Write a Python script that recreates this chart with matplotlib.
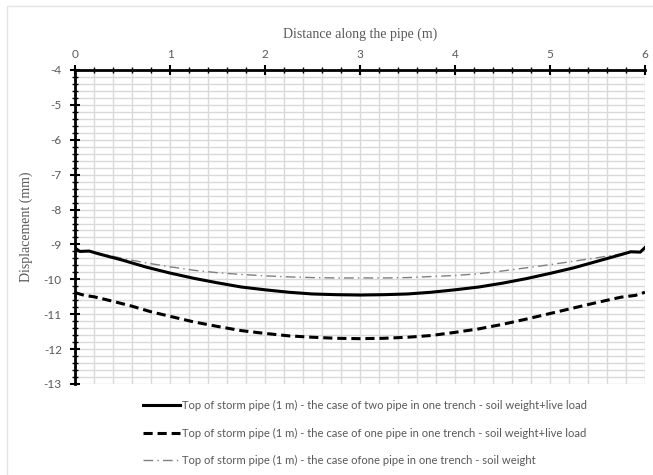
import matplotlib.pyplot as plt
from matplotlib.ticker import MultipleLocator
from matplotlib.patches import Rectangle

plt.rcParams["axes.unicode_minus"] = False

# distance along the pipe (m) and displacement (mm)
x_two = [0, 0.05, 0.15, 0.25, 0.5, 0.75, 1.0, 1.25, 1.5, 1.75, 2.0, 2.25, 2.5, 2.75, 3.0,
         3.25, 3.5, 3.75, 4.0, 4.25, 4.5, 4.75, 5.0, 5.25, 5.5, 5.75, 5.85, 5.95, 6.0]
y_two = [-9.10, -9.20, -9.19, -9.27, -9.45, -9.65, -9.82, -9.97, -10.10, -10.22, -10.30, -10.37,
         -10.42, -10.44, -10.45, -10.44, -10.42, -10.37, -10.30, -10.22, -10.11, -9.98, -9.83,
         -9.67, -9.48, -9.29, -9.21, -9.22, -9.09]

x_one = [0, 0.1, 0.2, 0.4, 0.6, 0.8, 1.0, 1.25, 1.5, 1.75, 2.0, 2.25, 2.5, 2.75, 3.0,
         3.25, 3.5, 3.75, 4.0, 4.25, 4.5, 4.75, 5.0, 5.25, 5.5, 5.75, 5.9, 6.0]
y_one = [-10.38, -10.46, -10.50, -10.63, -10.77, -10.93, -11.06, -11.22, -11.35, -11.47, -11.55,
         -11.62, -11.66, -11.69, -11.70, -11.69, -11.66, -11.61, -11.52, -11.42, -11.29, -11.14,
         -10.98, -10.82, -10.66, -10.51, -10.46, -10.37]

x_soil = x_two
y_soil = [-9.10, -9.20, -9.19, -9.25, -9.40, -9.53, -9.64, -9.74, -9.81, -9.86, -9.90, -9.93,
          -9.95, -9.96, -9.96, -9.96, -9.95, -9.92, -9.89, -9.84, -9.76, -9.67, -9.58, -9.48,
          -9.38, -9.27, -9.21, -9.22, -9.09]

labels = [
    "Top of storm pipe (1 m) - the case of two pipe in one trench - soil weight+live load",
    "Top of storm pipe (1 m) - the case of one pipe in one trench - soil weight+live load",
    "Top of storm pipe (1 m) - the case ofone pipe in one trench - soil weight",
]

grey = "#595959"
fig = plt.figure(figsize=(6.53, 4.75), dpi=100)
# chart area border (only top and left edges fall inside the picture)
fig.patches.append(Rectangle((7 / 653, -0.1), 1.1, 1.1 - 6 / 475, transform=fig.transFigure,
                             fill=False, edgecolor="#e3e3e3", linewidth=1))
ax = fig.add_axes([75 / 653, 91 / 475, 570 / 653, 314 / 475])

ax.plot(x_two, y_two, color="black", lw=2.2, label=labels[0], zorder=4)
ax.plot(x_one, y_one, color="black", lw=2.2, dashes=(3, 1.6), label=labels[1], zorder=4)
ax.plot(x_soil, y_soil, color="#808080", lw=1.0, dashes=(7, 3, 1, 3), label=labels[2], zorder=3)

ax.set_xlim(0, 6)
ax.set_ylim(-13, -4)
ax.xaxis.tick_top()
ax.xaxis.set_label_position("top")
ax.xaxis.set_major_locator(MultipleLocator(1))
ax.xaxis.set_minor_locator(MultipleLocator(0.2))
ax.yaxis.set_major_locator(MultipleLocator(1))
ax.yaxis.set_minor_locator(MultipleLocator(0.2))
ax.grid(True, which="both", color="#d9d9d9", lw=1)
ax.set_axisbelow(True)

for s in ["bottom", "right"]:
    ax.spines[s].set_visible(False)
for s in ["top", "left"]:
    ax.spines[s].set_linewidth(2)
    ax.spines[s].set_color("black")

ax.tick_params(which="major", direction="inout", length=7, width=1.5, color="black",
               labelcolor=grey, labelsize=8.5, pad=4)
ax.tick_params(which="minor", direction="inout", length=4, width=1, color="black")
ax.tick_params(axis="y", which="major", pad=6)
for t in ax.get_xticklabels() + ax.get_yticklabels():
    t.set_family("Lato")

ax.set_xlabel("Distance along the pipe (m)", family="Liberation Serif", fontsize=10,
              color=grey, labelpad=8)
ax.set_ylabel("Displacement (mm)", family="Liberation Serif", fontsize=10,
              color=grey, labelpad=8)

fig.legend(loc="upper left", bbox_to_anchor=(133 / 653, 1 - 390 / 475), frameon=False,
           handlelength=3.3, handletextpad=0.2, labelspacing=1.45,
           prop={"family": "Lato", "size": 8.1}, labelcolor=grey)

fig.savefig("out.png", dpi=100)
